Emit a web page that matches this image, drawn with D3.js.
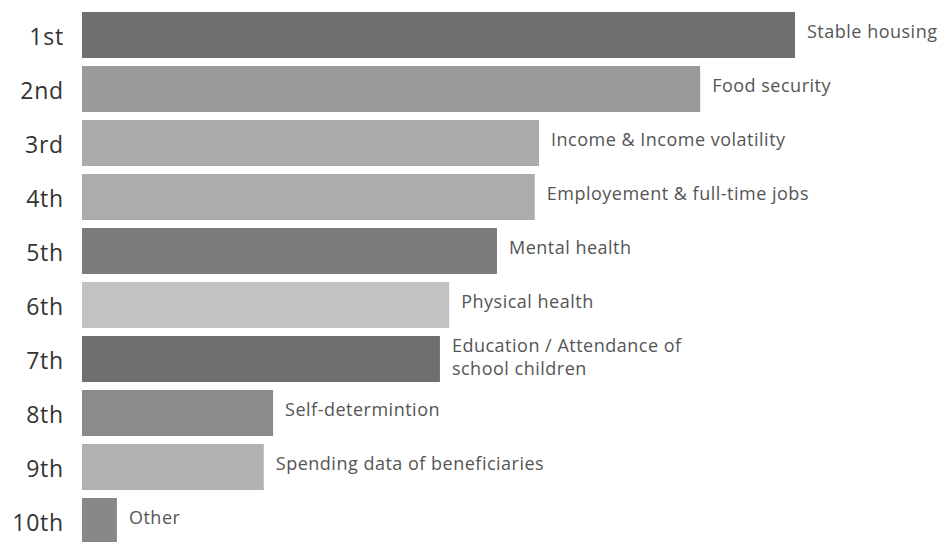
<!DOCTYPE html>
<html><head><meta charset="utf-8">
<script src="https://cdn.jsdelivr.net/npm/d3@7"></script>
<style>body{margin:0;background:#fff}svg{display:block}</style>
</head><body>
<script>
const ranks = ["1st","2nd","3rd","4th","5th","6th","7th","8th","9th","10th"];
const categories = [
  ["Stable housing"],
  ["Food security"],
  ["Income & Income volatility"],
  ["Employement & full-time jobs"],
  ["Mental health"],
  ["Physical health"],
  ["Education / Attendance of","school children"],
  ["Self-determintion"],
  ["Spending data of beneficiaries"],
  ["Other"]
];
const values = [100, 86.7, 64.1, 63.5, 58.2, 51.5, 50.2, 26.8, 25.5, 4.9];
const colors = ["#707070","#9a9a9a","#ababab","#acacac","#7b7b7b","#c2c2c2","#6f6f6f","#8b8b8b","#b2b2b2","#888888"];

const W = 939, H = 542;
const svg = d3.select("body").append("svg").attr("width", W).attr("height", H);

const x = d3.scaleLinear().domain([0, 100]).range([82, 795]);
const step = 54, bh = 46;

const g = svg.append("g");
ranks.forEach((r, i) => {
  const yy = 12 + i*step;
  g.append("rect")
    .attr("x", x(0)).attr("y", yy)
    .attr("width", x(values[i]) - x(0)).attr("height", bh)
    .attr("fill", colors[i]);
  g.append("text")
    .attr("x", 64).attr("y", yy + bh/2 + 1)
    .attr("text-anchor", "end").attr("dominant-baseline", "central")
    .attr("font-family", "'Open Sans', sans-serif")
    .attr("font-size", 23).attr("font-weight", 500).attr("fill", "#333")
    .attr("letter-spacing", 0.8)
    .text(r);
  const lines = categories[i];
  const t = g.append("text")
    .attr("font-family", "'Open Sans', sans-serif")
    .attr("font-size", 18).attr("font-weight", 400).attr("fill", "#555")
    .attr("letter-spacing", 0.5);
  lines.forEach((ln, k) => {
    t.append("tspan")
      .attr("x", x(values[i]) + 12)
      .attr("y", yy + bh/2 - 4 + (k - (lines.length-1)/2) * 23 + (lines.length > 1 ? 1 : 0))
      .attr("dominant-baseline", "central")
      .text(ln);
  });
});
</script>
</body></html>
